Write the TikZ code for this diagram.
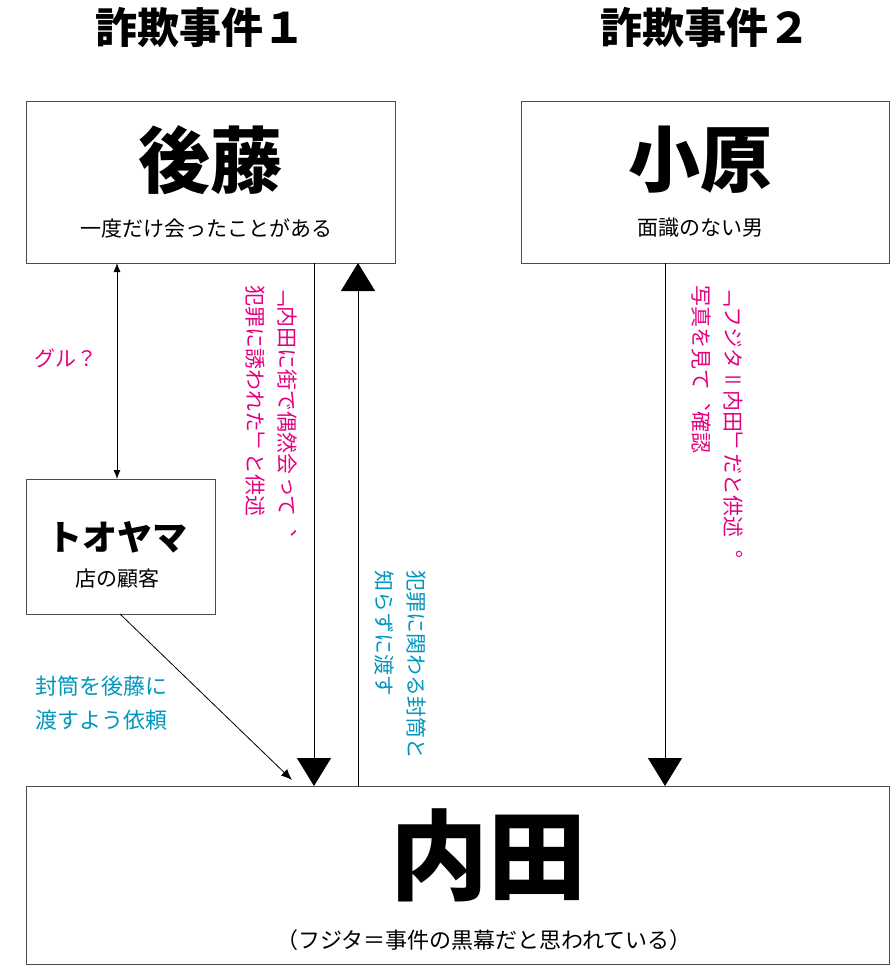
\documentclass[tikz,border=0pt]{standalone}
\usepackage{fontspec}
\setmainfont{Noto Sans CJK JP}
\newfontfamily\cjkv[Vertical=RotatedGlyphs,RawFeature=+vert]{Noto Sans CJK JP}
\usetikzlibrary{arrows.meta}
\definecolor{pink}{RGB}{228,0,127}
\definecolor{aqua}{RGB}{0,150,190}
\tikzset{
  box/.style={draw=black!70,line width=0.8pt},
  bigtip/.style={-{Triangle[length=28pt,width=34pt]},line width=1pt},
  smalltip/.style={line width=0.8pt},
  vlabel/.style={rotate=-90,anchor=north west,align=left,inner sep=0pt,font=\fontsize{21}{32}\cjkv},
}
\begin{document}
\begin{tikzpicture}[x=1pt,y=-1pt]
	\useasboundingbox (0,0) rectangle (891,966);
	% titles
	\node (t1) at (200,28) {\fontsize{42}{46}\selectfont\bfseries 詐欺事件１};
	\node (t2) at (705,28) {\fontsize{42}{46}\selectfont\bfseries 詐欺事件２};
	% boxes
	\draw[box] (26,101) rectangle (395,263);
	\draw[box] (521,101) rectangle (889,263);
	\draw[box] (26,479) rectangle (215,614);
	\draw[box] (26,786) rectangle (889,964);
	\node (goto) at (210,160) {\fontsize{72}{76}\selectfont\bfseries 後藤};
	\node at (206,228) {\fontsize{21}{24}\selectfont 一度だけ会ったことがある};
	\node (ohara) at (700,160) {\fontsize{72}{76}\selectfont\bfseries 小原};
	\node at (700,228) {\fontsize{21}{24}\selectfont 面識のない男};
	\node (toyama) at (117,537) {\fontsize{35}{38}\selectfont\bfseries トオヤマ};
	\node at (117,579) {\fontsize{21}{24}\selectfont 店の顧客};
	\node (uchida) at (488,855) {\fontsize{98}{100}\selectfont\bfseries 内田};
	\node at (484,940) {\fontsize{22}{24}\selectfont （フジタ＝事件の黒幕だと思われている）};
	% arrows
	\draw[smalltip,{Latex[length=9pt,width=7pt]}-{Latex[length=9pt,width=7pt]}] (117,263) -- (117,479);
	\draw[bigtip] (314,263) -- (314,786);
	\draw[bigtip] (358,786) -- (358,263);
	\draw[bigtip] (665,263) -- (665,786);
	\draw[smalltip,-{Latex[length=11pt,width=9pt]}] (120,614) -- (292,780);
	% labels
	\node[text=pink,font=\fontsize{21}{24}\selectfont] at (66,358) {グル？};
	\node[vlabel,text=pink] at (298,285) {「内田に街で偶然会って、\\犯罪に誘われた」と供述};
	\node[vlabel,text=pink] at (743,285) {「フジタ＝内田」だと供述。\\写真を見て、確認};
	\node[vlabel,text=aqua] at (426,570) {犯罪に関わる封筒と\\知らずに渡す};
	\node[text=aqua,align=left,anchor=west,inner sep=0pt,font=\fontsize{22}{34}\selectfont] at (35,703) {封筒を後藤に\\渡すよう依頼};
\end{tikzpicture}
\end{document}
